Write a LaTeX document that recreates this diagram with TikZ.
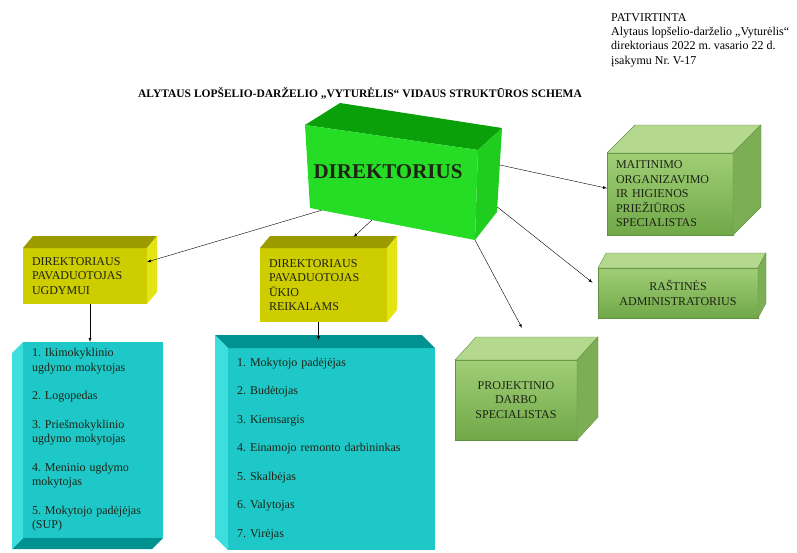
\documentclass[tikz,border=0pt]{standalone}
\usepackage{fontspec}
\setmainfont{Liberation Serif}
\usetikzlibrary{calc}
\frenchspacing

\definecolor{textdark}{RGB}{30,35,20}
\definecolor{dirfront}{RGB}{38,221,38}
\definecolor{dirtop}{RGB}{10,160,10}
\definecolor{dirside}{RGB}{30,205,30}
\definecolor{yelfront}{RGB}{205,205,0}
\definecolor{yeltop}{RGB}{155,155,0}
\definecolor{yelside}{RGB}{228,228,20}
\definecolor{cyanfront}{RGB}{30,200,200}
\definecolor{cyandark}{RGB}{0,145,145}
\definecolor{cyanlight}{RGB}{60,222,222}
\definecolor{lgtop}{RGB}{160,206,118}
\definecolor{lgbottom}{RGB}{112,168,72}
\definecolor{lglight}{RGB}{180,216,142}
\definecolor{lgside}{RGB}{124,174,86}
\definecolor{lgline}{RGB}{98,146,64}

% #1 node, #2 depth vector, #3 north/south, #4 east/west, #5 style of the flat face, #6 style of the upright face
\newcommand{\boxsides}[6]{%
  \path[#5] (#1.#3 west) -- ++(#2) -- ([shift={(#2)}]#1.#3 east) -- (#1.#3 east) -- cycle;
  \path[#6] (#1.north #4) -- ++(#2) -- ([shift={(#2)}]#1.south #4) -- (#1.south #4) -- cycle;}

\begin{document}
\begin{tikzpicture}[x=1pt,y=-1pt]
        \tikzstyle{plain}=[font=\fontsize{12}{14.3}\selectfont, align=left, inner sep=0pt]
        \tikzstyle{front}=[font=\fontsize{12}{14.5}\selectfont, text=textdark, inner xsep=9pt, inner ysep=0pt, outer sep=0pt]
        \tikzstyle{yellowbox}=[front, fill=yelfront, align=left]
        \tikzstyle{cyanbox}=[front, fill=cyanfront, align=left]
        \tikzstyle{greenbox}=[front, top color=lgtop, bottom color=lgbottom, draw=lgline, thin, align=center]
        \tikzstyle{transition}=[-latex, thin]
        \useasboundingbox (0,0) rectangle (797,552);

        \node[plain, anchor=north west] (approved) at (611,13) {PATVIRTINTA\\Alytaus lopšelio-darželio „Vyturėlis“\\direktoriaus 2022 m. vasario 22 d.\\įsakymu Nr. V-17};
        \node[font=\fontsize{11.5}{13}\selectfont\bfseries, inner sep=0pt] (title) at (360,93) {ALYTAUS LOPŠELIO-DARŽELIO „VYTURĖLIS“ VIDAUS STRUKTŪROS SCHEMA};

        % director block
        \coordinate (d1) at (305,125);
        \coordinate (d2) at (478,150);
        \coordinate (d3) at (475,240);
        \coordinate (d4) at (310,208);
        \coordinate (d5) at (340,103);
        \coordinate (d6) at (502,128);
        \coordinate (d7) at (497,212);
        \fill[dirtop] (d1) -- (d5) -- (d6) -- (d2) -- cycle;
        \fill[dirside] (d2) -- (d6) -- (d7) -- (d3) -- cycle;
        \fill[dirfront] (d1) -- (d2) -- (d3) -- (d4) -- cycle;
        \node[font=\fontsize{21}{24}\selectfont\bfseries, text=textdark] (dir) at (388,172) {DIREKTORIUS};

        % deputies
        \node[yellowbox, text width=106pt, minimum height=56pt] (ugd) at (85,276) {DIREKTORIAUS\\PAVADUOTOJAS\\UGDYMUI};
        \boxsides{ugd}{10,-12}{north}{east}{fill=yeltop}{fill=yelside}
        \node[yellowbox, text width=109pt, minimum height=74pt] (ukio) at (323.5,285) {DIREKTORIAUS\\PAVADUOTOJAS\\ŪKIO\\REIKALAMS};
        \boxsides{ukio}{10,-12}{north}{east}{fill=yeltop}{fill=yelside}

        % staff lists
        \node[cyanbox, text width=122pt, minimum height=196pt] (staff1) at (93,440) {1. Ikimokyklinio\\ugdymo mokytojas\\[14pt]2. Logopedas\\[14pt]3. Priešmokyklinio\\ugdymo mokytojas\\[14pt]4. Meninio ugdymo\\mokytojas\\[14pt]5. Mokytojo padėjėjas\\(SUP)};
        \boxsides{staff1}{-11,11}{south}{west}{fill=cyandark}{fill=cyanlight}
        \node[cyanbox, text width=189pt, minimum height=202pt, font=\fontsize{12}{28.5}\selectfont] (staff2) at (331.5,449) {1. Mokytojo padėjėjas\\2. Budėtojas\\3. Kiemsargis\\4. Einamojo remonto darbininkas\\5. Skalbėjas\\6. Valytojas\\7. Virėjas};
        \boxsides{staff2}{-13,-13}{north}{west}{fill=cyandark}{fill=cyanlight}

        % specialists
        \node[greenbox, align=left, text width=108pt, minimum height=82pt] (food) at (670,194) {MAITINIMO\\ORGANIZAVIMO\\IR HIGIENOS\\PRIEŽIŪROS\\SPECIALISTAS};
        \boxsides{food}{28,-28}{north}{east}{fill=lglight, draw=lgline, thin}{fill=lgside, draw=lgline, thin}
        \node[greenbox, minimum width=160pt, minimum height=50pt] (office) at (678,293) {RAŠTINĖS\\ADMINISTRATORIUS};
        \boxsides{office}{8,-15}{north}{east}{fill=lglight, draw=lgline, thin}{fill=lgside, draw=lgline, thin}
        \node[greenbox, minimum width=122pt, minimum height=80pt] (project) at (516,400) {PROJEKTINIO\\DARBO\\SPECIALISTAS};
        \boxsides{project}{21,-23}{north}{east}{fill=lglight, draw=lgline, thin}{fill=lgside, draw=lgline, thin}

        \coordinate (project-in) at (522,328);

        \draw[transition] ($(d4)!0.07!(d3)$) -- ($(ugd.north east)!0.25!(ugd.south east)$);
        \draw[transition] ($(d4)!0.375!(d3)$) -- ([shift={(30,-11)}]ukio.north);
        \draw[transition] ($(d6)!0.44!(d7)$) -- ($(food.north west)!0.43!(food.south west)$);
        \draw[transition, shorten >=7pt] ($(d6)!0.94!(d7)$) -- ($(office.north west)!0.38!(office.south west)$);
        \draw[transition] (d3) -- (project-in);
        \draw[transition] ([xshift=5pt]ugd.south) -- ([xshift=5pt]ugd.south |- staff1.north);
        \draw[transition, shorten >=8pt] ([xshift=-5pt]ukio.south) -- ([xshift=-5pt]ukio.south |- staff2.north);

    \end{tikzpicture}
\end{document}
